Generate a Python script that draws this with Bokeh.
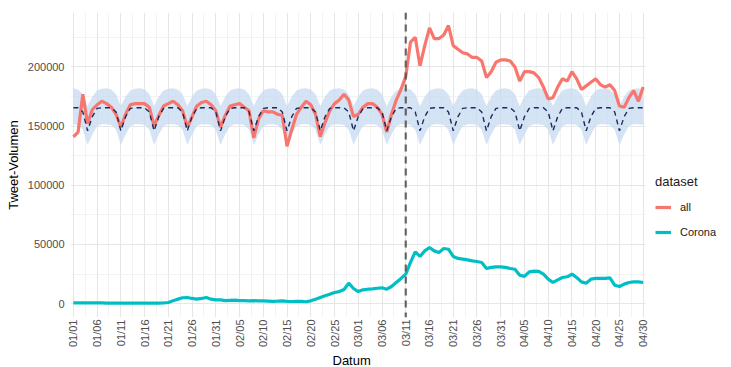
import math
import pandas as pd
from bokeh.plotting import figure
from bokeh.models import (Range1d, FixedTicker, DatetimeTickFormatter, BasicTickFormatter,
                          Span, Legend, LegendItem, ColumnDataSource, BoxAnnotation, Title)
from bokeh.embed import file_html
from bokeh.resources import INLINE

# ---------------- data ----------------
start_date = "2020-01-01"
end_date = "2020-04-30"
event_date = "2020-03-11"

tick_labels = ["01/01", "01/06", "01/11", "01/16", "01/21", "01/26", "01/31", "02/05",
               "02/10", "02/15", "02/20", "02/25", "03/01", "03/06", "03/11", "03/16",
               "03/21", "03/26", "03/31", "04/05", "04/10", "04/15", "04/20", "04/25", "04/30"]

y_ticks = [0, 50000, 100000, 150000, 200000]
y_minor = [25000, 75000, 125000, 175000, 225000]

all_tweets = [
    141000, 145000, 177000, 152000, 164000, 168000, 171000,
    169000, 166000, 160000, 149000, 160000, 168000, 169000,
    169000, 169000, 166000, 150000, 159000, 167000, 169000,
    171000, 168000, 163000, 149000, 158000, 167000, 170000,
    171000, 168000, 163000, 149000, 159000, 167000, 168000,
    169000, 166000, 163000, 140000, 156000, 163000, 162000,
    162000, 160000, 159000, 133000, 147000, 160000, 166000,
    171000, 168000, 160000, 141000, 153000, 163000, 169000,
    172000, 177000, 172000, 158000, 160000, 166000, 169000,
    169000, 166000, 160000, 145000, 160000, 172000, 181000,
    192000, 221000, 225000, 201000, 218000, 233000, 224000,
    224000, 227000, 235000, 218000, 215000, 212000, 211000,
    208000, 208000, 205000, 191000, 196000, 204000, 206000,
    206000, 205000, 200000, 188000, 196000, 196000, 195000,
    191000, 183000, 173000, 174000, 183000, 190000, 188000,
    196000, 190000, 181000, 184000, 187000, 190000, 185000,
    183000, 185000, 180000, 167000, 166000, 174000, 180000,
    171000, 183000,
]

corona_tweets = [
    700, 700, 600, 600, 600, 600, 600,
    500, 500, 500, 500, 400, 400, 400,
    500, 500, 500, 500, 500, 600, 1000,
    2400, 3800, 5000, 5200, 4400, 3800, 4400,
    5200, 3800, 3200, 3200, 2500, 2800, 3000,
    2500, 2600, 2400, 2500, 2300, 2400, 2200,
    2000, 2100, 2300, 2000, 1800, 2000, 1900,
    1600, 2400, 3800, 5200, 6600, 8000, 9400,
    10200, 12000, 17300, 12800, 10200, 11700, 12200,
    12500, 13000, 13400, 12200, 14500, 17900, 21300,
    25000, 34800, 43800, 39900, 44600, 47500, 44600,
    43200, 46600, 46000, 39900, 38200, 37600, 37000,
    36200, 35600, 34800, 29700, 30600, 31100, 31100,
    30600, 29700, 29100, 24100, 23000, 26900, 27500,
    27200, 24900, 20700, 17900, 20100, 22100, 22700,
    24900, 22100, 18400, 17300, 20700, 21300, 21300,
    21300, 21800, 15600, 14500, 16500, 17900, 18400,
    18400, 17900,
]

# forecast (weekly pattern; week starts Wed 01/01)
forecast_mean = [
    165500, 165500, 162000, 146000, 158000, 165000, 165500,
    165500, 165500, 162000, 146000, 158000, 165000, 165500,
    165500, 165500, 162000, 146000, 158000, 165000, 165500,
    165500, 165500, 162000, 146000, 158000, 165000, 165500,
    165500, 165500, 162000, 146000, 158000, 165000, 165500,
    165500, 165500, 162000, 146000, 158000, 165000, 165500,
    165500, 165500, 162000, 146000, 158000, 165000, 165500,
    165500, 165500, 162000, 146000, 158000, 165000, 165500,
    165500, 165500, 162000, 146000, 158000, 165000, 165500,
    165500, 165500, 162000, 146000, 158000, 165000, 165500,
    165500, 165500, 162000, 146000, 158000, 165000, 165500,
    165500, 165500, 162000, 146000, 158000, 165000, 165500,
    165500, 165500, 162000, 146000, 158000, 165000, 165500,
    165500, 165500, 162000, 146000, 158000, 165000, 165500,
    165500, 165500, 162000, 146000, 158000, 165000, 165500,
    165500, 165500, 162000, 146000, 158000, 165000, 165500,
    165500, 165500, 162000, 146000, 158000, 165000, 165500,
    165500, 165500,
]
forecast_upper = [
    182000, 181000, 177000, 167000, 175000, 180000, 181500,
    182000, 181000, 177000, 167000, 175000, 180000, 181500,
    182000, 181000, 177000, 167000, 175000, 180000, 181500,
    182000, 181000, 177000, 167000, 175000, 180000, 181500,
    182000, 181000, 177000, 167000, 175000, 180000, 181500,
    182000, 181000, 177000, 167000, 175000, 180000, 181500,
    182000, 181000, 177000, 167000, 175000, 180000, 181500,
    182000, 181000, 177000, 167000, 175000, 180000, 181500,
    182000, 181000, 177000, 167000, 175000, 180000, 181500,
    182000, 181000, 177000, 167000, 175000, 180000, 181500,
    182000, 181000, 177000, 167000, 175000, 180000, 181500,
    182000, 181000, 177000, 167000, 175000, 180000, 181500,
    182000, 181000, 177000, 167000, 175000, 180000, 181500,
    182000, 181000, 177000, 167000, 175000, 180000, 181500,
    182000, 181000, 177000, 167000, 175000, 180000, 181500,
    182000, 181000, 177000, 167000, 175000, 180000, 181500,
    182000, 181000, 177000, 167000, 175000, 180000, 181500,
    182000, 181000,
]
forecast_lower = [
    151500, 151000, 147000, 134000, 143000, 150000, 151500,
    151500, 151000, 147000, 134000, 143000, 150000, 151500,
    151500, 151000, 147000, 134000, 143000, 150000, 151500,
    151500, 151000, 147000, 134000, 143000, 150000, 151500,
    151500, 151000, 147000, 134000, 143000, 150000, 151500,
    151500, 151000, 147000, 134000, 143000, 150000, 151500,
    151500, 151000, 147000, 134000, 143000, 150000, 151500,
    151500, 151000, 147000, 134000, 143000, 150000, 151500,
    151500, 151000, 147000, 134000, 143000, 150000, 151500,
    151500, 151000, 147000, 134000, 143000, 150000, 151500,
    151500, 151000, 147000, 134000, 143000, 150000, 151500,
    151500, 151000, 147000, 134000, 143000, 150000, 151500,
    151500, 151000, 147000, 134000, 143000, 150000, 151500,
    151500, 151000, 147000, 134000, 143000, 150000, 151500,
    151500, 151000, 147000, 134000, 143000, 150000, 151500,
    151500, 151000, 147000, 134000, 143000, 150000, 151500,
    151500, 151000, 147000, 134000, 143000, 150000, 151500,
    151500, 151000,
]

# ---------------- build ----------------
dates = pd.date_range(start_date, end_date, freq="D")
src = ColumnDataSource(dict(date=dates, all=all_tweets, corona=corona_tweets,
                            mean=forecast_mean, upper=forecast_upper, lower=forecast_lower))

day_ms = 86400000
t0 = pd.Timestamp(start_date).value // 10**6
t1 = pd.Timestamp(end_date).value // 10**6
tick_ms = [pd.Timestamp("2020/" + t).value // 10**6 for t in tick_labels]
minor_ms = [m + 2.5 * day_ms for m in tick_ms[:-1]]

FONT = "Liberation Sans"

# frame spans to the right edge; the area right of the data panel is masked
# so the legend can sit there without being clipped
p = figure(width=731, height=367, output_backend="svg", toolbar_location=None,
           x_axis_type="datetime",
           x_range=Range1d(t0 - 0.6 * day_ms, t0 + 138.6 * day_ms),
           y_range=Range1d(-11700, 246000),
           min_border_left=70, min_border_right=0, min_border_top=12, min_border_bottom=10)
p.outline_line_color = None
p.background_fill_color = "white"
p.border_fill_color = "white"

p.xaxis.ticker = FixedTicker(ticks=tick_ms, minor_ticks=minor_ms)
p.xaxis.formatter = DatetimeTickFormatter(days="%m/%d", months="%m/%d", years="%m/%d",
                                          hours="%m/%d")
p.yaxis.ticker = FixedTicker(ticks=y_ticks, minor_ticks=y_minor)
p.yaxis.formatter = BasicTickFormatter(use_scientific=False)

for ax in (p.xaxis[0], p.yaxis[0]):
    ax.axis_line_color = None
    ax.major_tick_line_color = None
    ax.minor_tick_line_color = None
    ax.major_tick_out = 0
    ax.major_tick_in = 0
    ax.minor_tick_out = 0
    ax.minor_tick_in = 0
    ax.major_label_text_font = FONT
    ax.major_label_text_font_size = "11px"
    ax.major_label_text_color = "#4d4d4d"
    ax.axis_label_text_font = FONT
    ax.axis_label_text_font_size = "13px"
    ax.axis_label_text_font_style = "normal"
    ax.axis_label_text_color = "black"

p.xaxis.major_label_orientation = math.pi / 2
p.xaxis.major_label_standoff = 2
p.yaxis.major_label_standoff = 6
p.yaxis.axis_label = "Tweet-Volumen"
p.yaxis.axis_label_standoff = 4

xlabel = Title(text="Datum", align="left", offset=262, standoff=0,
               text_font=FONT, text_font_size="13px", text_font_style="normal",
               text_color="black")
p.add_layout(xlabel, "below")

p.xgrid.grid_line_color = "#e6e6e6"
p.xgrid.grid_line_width = 1.1
p.xgrid.minor_grid_line_color = "#f0f0f0"
p.xgrid.minor_grid_line_width = 0.8
p.ygrid.grid_line_color = "#e6e6e6"
p.ygrid.grid_line_width = 1.1
p.ygrid.minor_grid_line_color = "#f0f0f0"
p.ygrid.minor_grid_line_width = 0.8

p.varea(x="date", y1="lower", y2="upper", source=src, fill_color="#c6dbf2", fill_alpha=0.75)
r_all = p.line(x="date", y="all", source=src, line_color="#F8766D", line_width=3.2)
r_cor = p.line(x="date", y="corona", source=src, line_color="#00BFC4", line_width=3.2)
p.line(x="date", y="mean", source=src, line_color="#1f2a5a", line_width=1.4, line_dash="5 4")

ev_ms = pd.Timestamp(event_date).value // 10**6
p.add_layout(Span(location=ev_ms, dimension="height", line_color="#555555",
                  line_width=2.2, line_dash="7 5", line_alpha=0.9))

# white mask right of the panel (covers grid lines there)
p.add_layout(BoxAnnotation(left=t1 + 0.5 * day_ms, fill_color="white", fill_alpha=1.0,
                           line_alpha=0))

legend = Legend(items=[LegendItem(label="all", renderers=[r_all]),
                       LegendItem(label="Corona", renderers=[r_cor])],
                title="dataset", location=(585, 75))
legend.title_text_font = FONT
legend.title_text_font_size = "13px"
legend.title_text_font_style = "normal"
legend.title_text_color = "#1a1a1a"
legend.title_standoff = 8
legend.label_text_font = FONT
legend.label_text_font_size = "11px"
legend.label_text_color = "#1a1a1a"
legend.glyph_width = 16
legend.glyph_height = 20
legend.label_height = 20
legend.spacing = 5
legend.padding = 0
legend.margin = 0
legend.label_standoff = 9
legend.border_line_color = None
legend.background_fill_alpha = 0
p.add_layout(legend, "center")

open("out.html", "w").write(file_html(p, INLINE))
